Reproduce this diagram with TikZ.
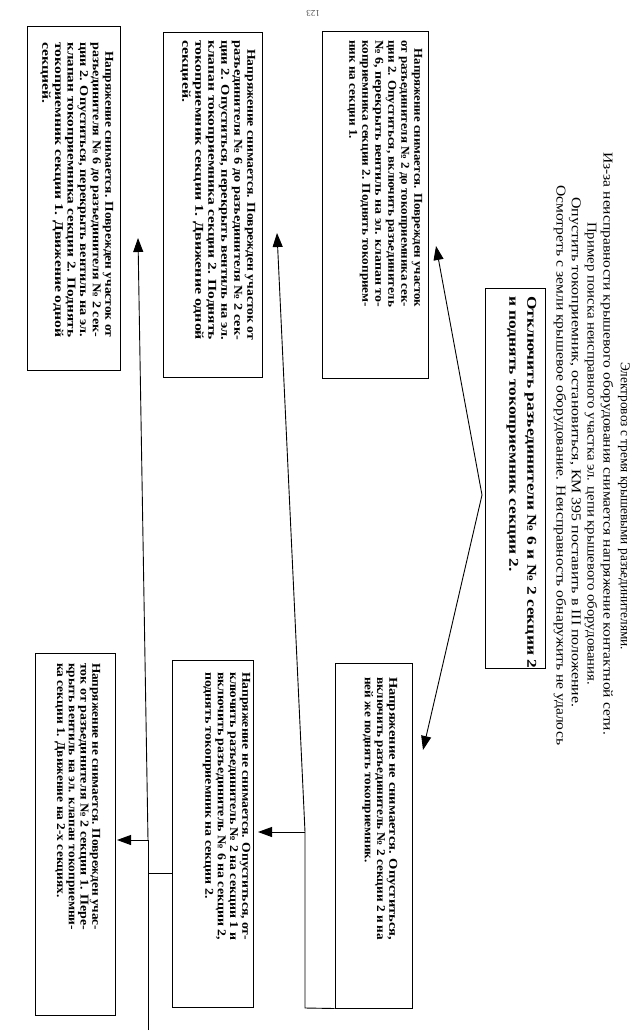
\documentclass[tikz,border=0pt]{standalone}
\usepackage{fontspec}
\setmainfont{Liberation Serif}
\usepackage{graphicx}
\usetikzlibrary{arrows.meta}
\newsavebox\lnbox
\newcommand\fitln[1]{\sbox\lnbox{#1}\pgfmathsetmacro\lnratio{\the\linewidth/\the\wd\lnbox}\global\let\lastratio\lnratio\noindent\scalebox{\lnratio}[1]{\usebox\lnbox}\par}
\newcommand\lastln[1]{\sbox\lnbox{#1}\noindent\scalebox{\lastratio}[1]{\usebox\lnbox}\par}
\newcommand\fitto[2]{\sbox\lnbox{#2}\pgfmathsetmacro\lnratio{#1/\the\wd\lnbox}\scalebox{\lnratio}[1]{\usebox\lnbox}}
\newcommand\tblock[4]{\begin{minipage}{#1}\fontsize{#2}{#3}\selectfont\bfseries\parindent=0pt\parskip=0pt #4\end{minipage}}
\tikzset{
 box/.style={draw, line width=1pt, inner sep=0pt},
 txt/.style={rotate=-90, anchor=north west, inner sep=0pt},
 hdr/.style={rotate=-90, anchor=west, inner sep=0pt, font=\fontsize{13.5}{15}\selectfont},
 arr/.style={line width=0.9pt, -{Triangle[length=14pt,width=10pt]}},
 conn/.style={line width=0.9pt},
}
\begin{document}
\begin{tikzpicture}[x=1pt,y=-1pt]
\fill[white] (0,0) rectangle (642,1033);
\useasboundingbox (0,0) rectangle (642,1033);
\node[rotate=180, font=\fontsize{9}{10}\selectfont, text=black!70] (pg) at (313,13) {123};
% header
\node[hdr] (h1) at (624,362) {\fitto{288pt}{Электровоз с тремя крышевыми разъединителями.}};
\node[hdr] (h2) at (607,152) {\fitto{583pt}{Из-за неисправности крышевого оборудования снимается напряжение контактной сети.}};
\node[hdr] (h3) at (591,222) {\fitto{463pt}{Пример поиска неисправного участка эл. цепи крышевого оборудования.}};
\node[hdr] (h4) at (575,197) {\fitto{510pt}{Опустить токоприемник, остановиться, КМ 395 поставить в III положение.}};
\node[hdr] (h5) at (560,185) {\fitto{560pt}{Осмотреть с земли крышевое оборудование. Неисправность обнаружить не удалось}};
% boxes
\node[box, minimum width=60pt, minimum height=380pt] (T) at (515,478) {};
\node[box, minimum width=106pt, minimum height=346pt] (A) at (375,205) {};
\node[box, minimum width=99pt, minimum height=344pt] (B) at (212.5,205) {};
\node[box, minimum width=93pt, minimum height=343pt] (C) at (73.5,198.5) {};
\node[box, minimum width=77pt, minimum height=345pt] (D) at (373.5,835.5) {};
\node[box, minimum width=81pt, minimum height=347pt] (E) at (212.5,833.5) {};
\node[box, minimum width=80pt, minimum height=362pt] (F) at (75,834) {};
% texts
\node[txt] (tT) at (536.5,296) {\tblock{372pt}{13.5}{18}{%
\fitln{Отключить разъединители № 6 и № 2 секции 2}
\lastln{и поднять токоприемник секции 2.}}};
\node[txt] (tA) at (422.5,40) {\tblock{267pt}{12}{13}{%
\fitln{\hspace*{8pt}Напряжение снимается. Поврежден участок}
\fitln{от разъединителя № 2 до токоприемника сек-}
\fitln{ции 2. Опуститься, включить разъединитель}
\fitln{№ 6, перекрыть вентиль на эл. клапан то-}
\fitln{коприемника секции 2. Поднять токоприем-}
\lastln{ник на секции 1.}}};
\node[txt] (tB) at (255.5,40) {\tblock{300pt}{12}{13}{%
\fitln{\hspace*{8pt}Напряжение снимается. Поврежден участок от}
\fitln{разъединителя № 6 до разъединителя № 2 сек-}
\fitln{ции 2. Опуститься, перекрыть вентиль на эл.}
\fitln{клапан токоприемника секции 2. Поднять}
\fitln{токоприемник секции 1. Движение одной}
\lastln{секцией.}}};
\node[txt] (tC) at (113.5,42) {\tblock{295pt}{12}{12.6}{%
\fitln{\hspace*{8pt}Напряжение снимается. Поврежден участок от}
\fitln{разъединителя № 6 до разъединителя № 2 сек-}
\fitln{ции 2. Опуститься, перекрыть вентиль на эл.}
\fitln{клапан токоприемника секции 2. Поднять}
\fitln{токоприемник секции 1. Движение одной}
\lastln{секцией.}}};
\node[txt] (tD) at (397.5,677) {\tblock{263pt}{12}{12.2}{%
\fitln{Напряжение не снимается. Опуститься,}
\fitln{включить разъединитель № 2 секции 2 и на}
\lastln{ней же поднять токоприемник.}}};
\node[txt] (tE) at (250.5,672) {\tblock{268pt}{12}{12.3}{%
\fitln{Напряжение не снимается. Опуститься, от-}
\fitln{ключить разъединитель № 2 на секции 1 и}
\fitln{включить разъединитель № 6 на секции 2,}
\lastln{поднять токоприемник на секции 2.}}};
\node[txt] (tF) at (100.5,663) {\tblock{267pt}{12}{11.8}{%
\fitln{Напряжение не снимается. Поврежден учас-}
\fitln{ток от разъединителя № 2 секции 1. Пере-}
\fitln{крыть вентиль на эл. клапан токоприемни-}
\lastln{ка секции 1. Движение на 2-х секциях.}}};
% connectors
\coordinate (v) at (482,495);
\coordinate (tipA) at (436,246);
\coordinate (tipD) at (423,750);
\draw[arr] (v) -- (tipA);
\draw[arr] (v) -- (tipD);
\coordinate (dB) at (305,1008);
\coordinate (cD) at (305,832);
\coordinate (tipE) at (258,832);
\coordinate (tipB) at (277,233);
\draw[conn] (D.south west) -- (dB) -- (cD);
\draw[arr] (cD) -- (tipE);
\draw[arr] (cD) -- (tipB);
\coordinate (eS) at (172,873);
\coordinate (eK) at (148,873);
\coordinate (eB) at (148,1030);
\coordinate (cE) at (148,840);
\coordinate (tipF) at (117,840);
\coordinate (tipC) at (138,238);
\draw[conn] (eS) -- (eK);
\draw[conn] (eB) -- (cE);
\draw[arr] (cE) -- (tipF);
\draw[arr] (cE) -- (tipC);
\end{tikzpicture}
\end{document}
